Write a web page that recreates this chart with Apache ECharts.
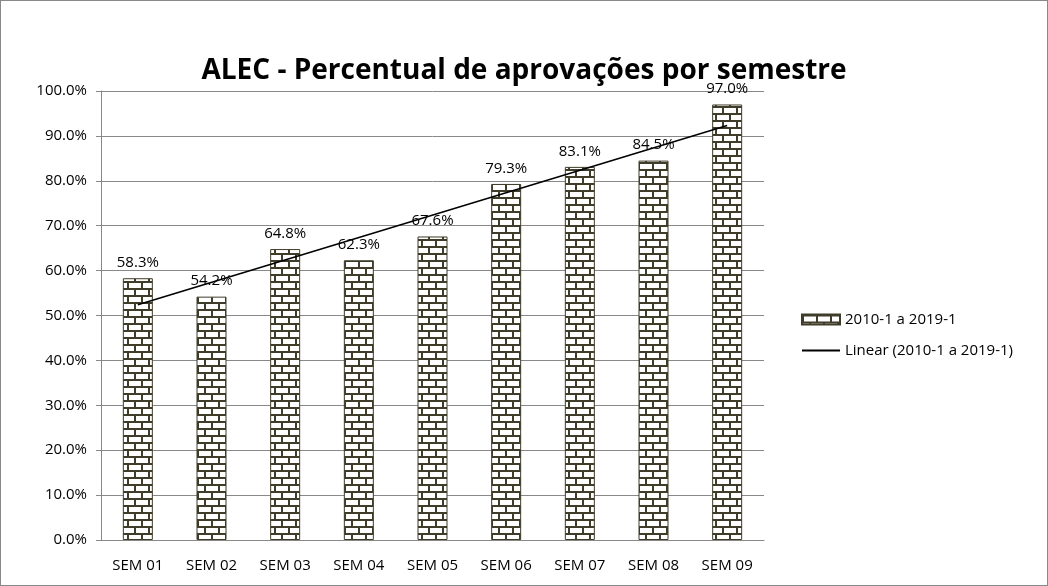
<!DOCTYPE html>
<html>
<head>
<meta charset="utf-8">
<style>
    html, body { margin: 0; padding: 0; background: #fff; }
    #chart { width: 1048px; height: 586px; box-sizing: border-box; border: 1px solid #888; }
</style>
<script src="https://cdn.jsdelivr.net/npm/echarts@6/dist/echarts.min.js"></script>
</head>
<body>
<div id="chart"></div>
<script>
// 数据
var categories = ["SEM 01", "SEM 02", "SEM 03", "SEM 04", "SEM 05", "SEM 06", "SEM 07", "SEM 08", "SEM 09"];
var approvals = [58.3, 54.2, 64.8, 62.3, 67.6, 79.3, 83.1, 84.5, 97.0];
// linha de tendência (início e fim)
var trendStart = 52.4;
var trendEnd = 92.3;
var yTicks = [0, 10, 20, 30, 40, 50, 60, 70, 80, 90, 100];

var barName = "2010-1 a 2019-1";
var lineName = "Linear (2010-1 a 2019-1)";

// padrão de tijolos
function brickPattern() {
    var c = document.createElement("canvas");
    c.width = 14;
    c.height = 14;
    var ctx = c.getContext("2d");
    ctx.fillStyle = "#ffffff";
    ctx.fillRect(0, 0, 14, 14);
    ctx.fillStyle = "#3f3c2a";
    ctx.fillRect(0, 0, 14, 2);
    ctx.fillRect(0, 7, 14, 2);
    ctx.fillRect(0, 0, 2, 7);
    ctx.fillRect(7, 7, 2, 7);
    return c;
}

var trendData = categories.map(function (c, i) {
    if (i === 0) return trendStart;
    if (i === categories.length - 1) return trendEnd;
    return null;
});

var myChart = echarts.init(document.getElementById("chart"));
var option = {
    animation: false,
    textStyle: { fontFamily: "Open Sans" },
    title: {
        text: "ALEC - Percentual de aprovações por semestre",
        left: "center",
        top: 51,
        textStyle: {
            fontSize: 28,
            fontWeight: "bold",
            color: "#000",
            fontFamily: "Open Sans"
        }
    },
    grid: {
        left: 100,
        right: 283,
        top: 90,
        bottom: 45
    },
    legend: {
        orient: "vertical",
        left: 795,
        top: 306,
        itemGap: 16,
        itemWidth: 38,
        itemHeight: 10,
        textStyle: { fontSize: 15, color: "#000" },
        data: [
            { name: barName, icon: "rect" },
            { name: lineName, itemStyle: { opacity: 0 } }
        ]
    },
    xAxis: {
        type: "category",
        data: categories,
        axisTick: { show: false },
        axisLine: { lineStyle: { color: "#888" } },
        axisLabel: { color: "#000", fontSize: 15, margin: 18 }
    },
    yAxis: {
        type: "value",
        min: yTicks[0],
        max: yTicks[yTicks.length - 1],
        interval: 10,
        axisLine: { show: true, lineStyle: { color: "#888" } },
        axisTick: { show: true, length: 5, lineStyle: { color: "#888" } },
        splitLine: { lineStyle: { color: "#888" } },
        axisLabel: {
            color: "#000",
            fontSize: 15,
            margin: 14,
            formatter: function (v) { return v.toFixed(1) + "%"; }
        }
    },
    series: [
        {
            name: barName,
            type: "bar",
            data: approvals,
            barWidth: 30,
            itemStyle: {
                color: { image: brickPattern(), repeat: "repeat" },
                borderColor: "#3f3c2a",
                borderWidth: 1
            },
            label: {
                show: true,
                position: "top",
                distance: 8,
                fontSize: 15,
                color: "#000",
                formatter: function (p) { return p.value.toFixed(1) + "%"; }
            }
        },
        {
            name: lineName,
            type: "line",
            data: trendData,
            connectNulls: true,
            symbol: "none",
            z: 5,
            lineStyle: { color: "#000", width: 1.5 },
            itemStyle: { color: "#000" }
        }
    ]
};
myChart.setOption(option);
window.addEventListener("resize", function () {
    myChart.resize();
});
</script>
</body>
</html>
